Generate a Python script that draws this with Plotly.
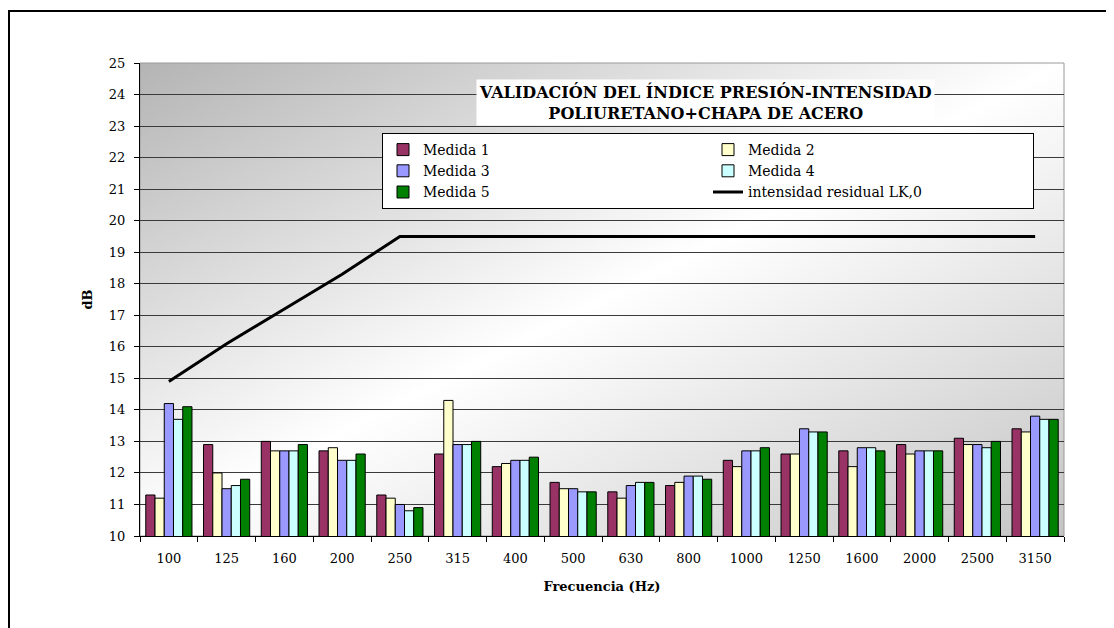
import base64
import plotly.graph_objects as go

categories = ["100", "125", "160", "200", "250", "315", "400", "500", "630",
              "800", "1000", "1250", "1600", "2000", "2500", "3150"]
medida1 = [11.3, 12.9, 13.0, 12.7, 11.3, 12.6, 12.2, 11.7, 11.4, 11.6, 12.4, 12.6, 12.7, 12.9, 13.1, 13.4]
medida2 = [11.2, 12.0, 12.7, 12.8, 11.2, 14.3, 12.3, 11.5, 11.2, 11.7, 12.2, 12.6, 12.2, 12.6, 12.9, 13.3]
medida3 = [14.2, 11.5, 12.7, 12.4, 11.0, 12.9, 12.4, 11.5, 11.6, 11.9, 12.7, 13.4, 12.8, 12.7, 12.9, 13.8]
medida4 = [13.7, 11.6, 12.7, 12.4, 10.8, 12.9, 12.4, 11.4, 11.7, 11.9, 12.7, 13.3, 12.8, 12.7, 12.8, 13.7]
medida5 = [14.1, 11.8, 12.9, 12.6, 10.9, 13.0, 12.5, 11.4, 11.7, 11.8, 12.8, 13.3, 12.7, 12.7, 13.0, 13.7]
residual = [14.9, 16.1, 17.2, 18.3, 19.5, 19.5, 19.5, 19.5, 19.5, 19.5, 19.5, 19.5, 19.5, 19.5, 19.5, 19.5]

series = [
    ("Medida 1", medida1, "#993366"),
    ("Medida 2", medida2, "#FFFFCC"),
    ("Medida 3", medida3, "#9999FF"),
    ("Medida 4", medida4, "#CCFFFF"),
    ("Medida 5", medida5, "#008000"),
]

FONT = "DejaVu Serif"

fig = go.Figure()
for name, vals, col in series:
    fig.add_trace(go.Bar(x=categories, y=vals, name=name,
                         marker=dict(color=col, line=dict(color="black", width=1))))
fig.add_trace(go.Scatter(x=categories, y=residual, name="intensidad residual LK,0",
                         mode="lines", line=dict(color="black", width=3)))

# diagonal gradient background for the plot area
svg = ('<svg xmlns="http://www.w3.org/2000/svg" width="100" height="100" viewBox="0 0 100 100" '
       'preserveAspectRatio="none"><defs><linearGradient id="g" x1="0" y1="0" x2="1" y2="1">'
       '<stop offset="0" stop-color="#b4b4b4"/><stop offset="0.5" stop-color="#ffffff"/>'
       '<stop offset="1" stop-color="#c4c4c4"/></linearGradient></defs>'
       '<rect x="0" y="0" width="100" height="100" fill="url(#g)"/></svg>')
src = "data:image/svg+xml;base64," + base64.b64encode(svg.encode()).decode()

OFF = 8  # page body margin
W, H = 1114, 628
L, T = 132, 55
PR, PB = 1056, 528  # plot right / bottom in figure px
R, B = W - PR, H - PB
pw, ph = PR - L, PB - T

def px(xs):
    return (xs - OFF - L) / pw

def py(ys):
    return (PB - (ys - OFF)) / ph

fig.update_layout(
    width=W, height=H,
    margin=dict(l=L, r=R, t=T, b=B),
    paper_bgcolor="white",
    plot_bgcolor="rgba(0,0,0,0)",
    barmode="group", bargap=0.2, bargroupgap=0,
    font=dict(family=FONT, color="black", size=13),
    images=[dict(source=src, xref="paper", yref="paper", x=0, y=1, sizex=1, sizey=1,
                 sizing="stretch", xanchor="left", yanchor="top", layer="below")],
    showlegend=True,
    legend=dict(orientation="h", x=px(382), y=py(133), xanchor="left", yanchor="top",
                entrywidth=280, entrywidthmode="pixels",
                bgcolor="white", bordercolor="black", borderwidth=1,
                font=dict(family=FONT, size=14, color="black"),
                tracegroupgap=0, itemwidth=30),
    xaxis=dict(type="category", tickson="boundaries", ticks="outside", ticklen=5,
               tickcolor="black", showline=True, linecolor="black", linewidth=1,
               showgrid=False, tickfont=dict(family=FONT, size=13),
               ticklabelstandoff=10,
               title=dict(text="<b>Frecuencia (Hz)</b>", font=dict(family=FONT, size=13),
                          standoff=17)),
    yaxis=dict(range=[10, 25], dtick=1, ticks="outside", ticklen=5, tickcolor="black",
               showline=True, linecolor="black", linewidth=1,
               showgrid=True, gridcolor="#3a3a3a", gridwidth=1,
               tickfont=dict(family=FONT, size=13), ticklabelstandoff=6,
               title=dict(text="<b>dB</b>", font=dict(family=FONT, size=13), standoff=13)),
    annotations=[dict(text="<b>VALIDACIÓN DEL ÍNDICE PRESIÓN-INTENSIDAD<br>POLIURETANO+CHAPA DE ACERO</b>",
                      xref="paper", yref="paper", x=px(705), y=py(102),
                      xanchor="center", yanchor="middle", showarrow=False,
                      font=dict(family=FONT, size=16, color="black"),
                      bgcolor="white", borderpad=2)],
    shapes=[
        dict(type="rect", xref="paper", yref="paper", x0=0, x1=1, y0=0, y1=1,
             line=dict(color="#9a9a9a", width=1), layer="below"),
        dict(type="line", xref="paper", yref="paper", x0=px(9), x1=px(9), y0=py(10), y1=py(700),
             line=dict(color="black", width=2)),
        dict(type="line", xref="paper", yref="paper", x0=px(8), x1=px(1200), y0=py(11), y1=py(11),
             line=dict(color="black", width=2)),
    ],
)

fig.write_html("out.html")
